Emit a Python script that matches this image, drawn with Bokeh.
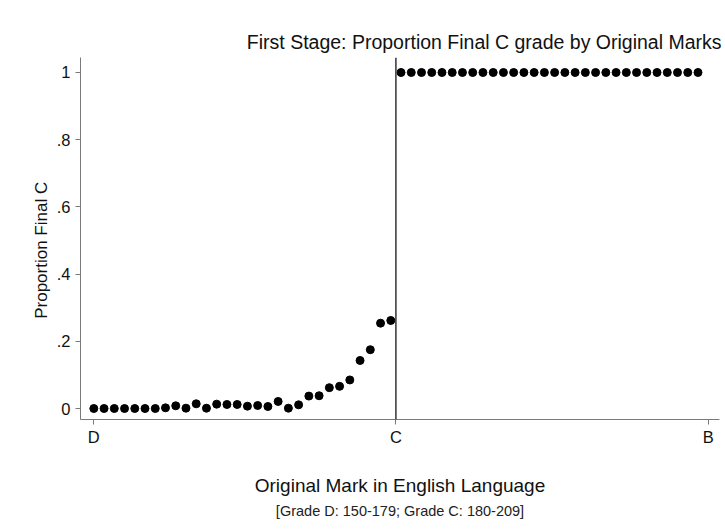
from bokeh.plotting import figure
from bokeh.models import FixedTicker, Span, Title, Range1d
from bokeh.embed import file_html
from bokeh.resources import INLINE

# Data
marks_d = list(range(150, 180))
prop_d = [0, 0, 0, 0, 0, 0, 0, 0.002, 0.008, 0.001,
          0.014, 0.001, 0.013, 0.012, 0.012, 0.007, 0.009, 0.006, 0.021, 0.001,
          0.011, 0.037, 0.038, 0.062, 0.066, 0.085, 0.143, 0.175, 0.254, 0.262]
marks_c = list(range(180, 210))
prop_c = [1.0] * 30
x_tick_vals = [150, 179.5, 210]
x_tick_labels = ["D", "C", "B"]
y_tick_vals = [0, 0.2, 0.4, 0.6, 0.8, 1.0]
y_tick_labels = ["0", ".2", ".4", ".6", ".8", "1"]
cutoff = 179.5

FONT = "Liberation Sans"

p = figure(width=721, height=530, output_backend="svg", toolbar_location=None,
           x_range=Range1d(148.70, 211.1), y_range=Range1d(-0.0327, 1.0446),
           min_border_left=80, min_border_right=2, min_border_top=57, min_border_bottom=111)
p.outline_line_color = None
p.grid.visible = False
p.background_fill_color = "white"
p.border_fill_color = "white"

p.title = Title(text="First Stage: Proportion Final C grade by Original Marks",
                align="right", text_font=FONT, text_font_size="19.5px",
                text_font_style="normal", text_color="#111111", offset=-2, standoff=9)

p.xaxis.ticker = FixedTicker(ticks=x_tick_vals)
p.xaxis.major_label_overrides = {v: l for v, l in zip(x_tick_vals, x_tick_labels)}
p.yaxis.ticker = FixedTicker(ticks=y_tick_vals)
p.yaxis.major_label_overrides = {v: l for v, l in zip(y_tick_vals, y_tick_labels)}

for ax in (p.xaxis, p.yaxis):
    ax.axis_line_color = "#7a7a7a"
    ax.major_tick_line_color = "#7a7a7a"
    ax.major_tick_out = 5
    ax.major_tick_in = 0
    ax.minor_tick_line_color = None
    ax.major_label_text_font = FONT
    ax.major_label_text_font_size = "16.5px"
    ax.major_label_text_color = "#111111"
    ax.axis_label_text_font = FONT
    ax.axis_label_text_font_style = "normal"
    ax.axis_label_text_color = "#111111"

p.yaxis.major_label_orientation = "horizontal"
p.yaxis.major_label_standoff = 5
p.yaxis.axis_label = "Proportion Final C\u00a0\u00a0\u00a0\u00a0\u00a0"
p.yaxis.axis_label_text_font_size = "17px"
p.yaxis.axis_label_standoff = 3
p.xaxis.axis_label = "Original Mark in English Language"
p.xaxis.axis_label_text_font_size = "19px"
p.xaxis.axis_label_standoff = 26
p.xaxis.major_label_standoff = 3

sub = Title(text="[Grade D: 150-179; Grade C: 180-209]", align="center",
            text_font=FONT, text_font_size="14.5px", text_font_style="normal",
            text_color="#222222", standoff=4)
p.add_layout(sub, "below")

p.add_layout(Span(location=cutoff, dimension="height", line_color="#333333", line_width=1.5))

p.scatter(marks_d, prop_d, size=8, fill_color="black", line_color="black")
p.scatter(marks_c, prop_c, size=8, fill_color="black", line_color="black")

open("out.html", "w").write(file_html(p, INLINE))
